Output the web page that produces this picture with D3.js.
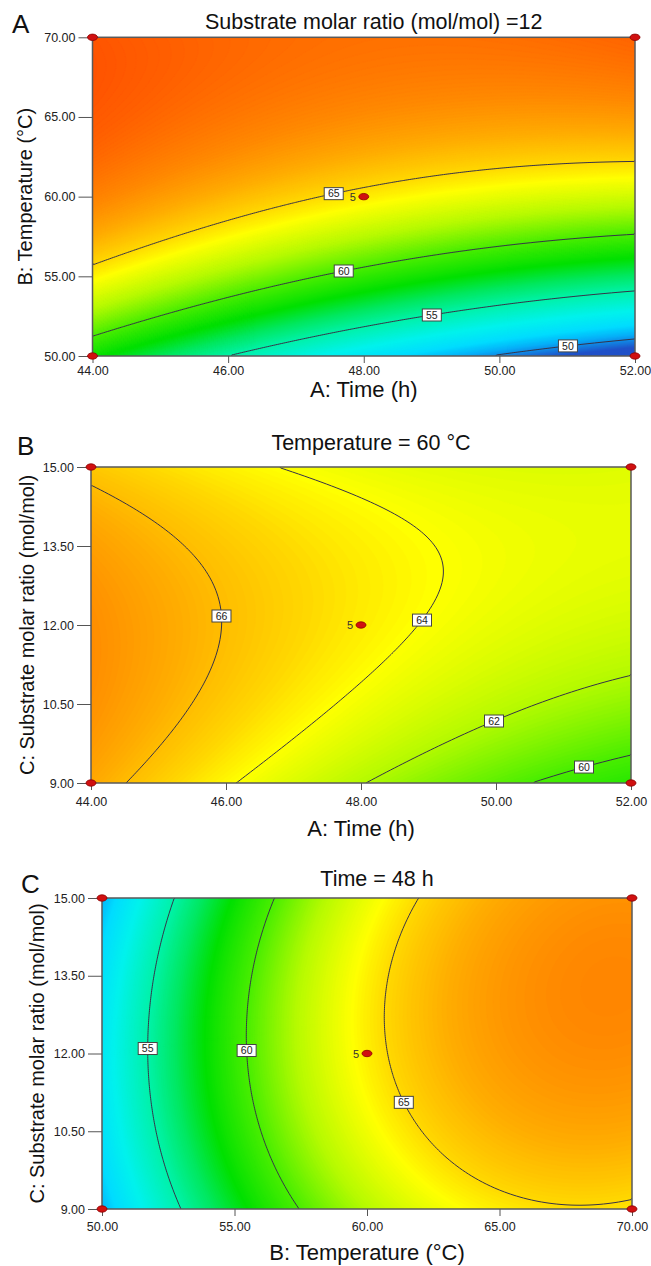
<!DOCTYPE html>
<html lang="en">
<head>
<meta charset="UTF-8">
<script src="https://cdnjs.cloudflare.com/ajax/libs/d3/7.8.5/d3.min.js"></script>
<title>Contour plots</title>
<style>
  body { margin: 0; background: #fff; }
  svg text { font-family: Arial, "Liberation Sans", sans-serif; fill: #111; }
  .tick text { font-size: 12.5px; fill: #222; }
  .tick line { stroke: #555; }
  .ttl { font-size: 21.5px; text-anchor: middle; }
  .axt { font-size: 22px; text-anchor: middle; }
  .ayt { font-size: 20px; text-anchor: middle; }
  .letter { font-size: 26px; }
  .iso { fill: none; stroke: #363248; stroke-width: 1; }
  .lab text { font-size: 10.5px; text-anchor: middle; fill: #222; }
  .lab rect { fill: #fff; stroke: #444; stroke-width: 1; }
</style>
</head>
<body>
<svg width="651" height="1266"></svg>
<script>
// ticks
const timeTicks = [44, 46, 48, 50, 52];
const tempTicks = [50, 55, 60, 65, 70];
const ratioTicks = [9, 10.5, 12, 13.5, 15];

// contour crossings: [x, y, level]
const isoA = [
  [44, 55.95, 65], [45.7, 57.94, 65], [46.92, 59.41, 65], [47.21, 59.87, 65], [48.39, 60.81, 65], [49.37, 61.68, 65], [52, 62.26, 65],
  [44, 51.22, 60], [45.7, 53.32, 60], [47.69, 55.3, 60], [49.37, 56.47, 60], [52, 57.56, 60],
  [46.13, 50, 55], [47.54, 51.64, 55], [49.0, 52.7, 55], [50.6, 53.53, 55], [52, 54.05, 55],
  [49.98, 50, 50], [51.0, 50.7, 50], [52, 51.05, 50]
];
const isoB = [
  [44, 14.62, 66], [44.51, 14.31, 66], [45.12, 13.8, 66], [45.55, 13.36, 66], [45.86, 12.6, 66], [45.96, 12.0, 66],
  [45.86, 11.27, 66], [45.43, 10.26, 66], [45.0, 9.69, 66], [44.51, 9, 66],
  [46.78, 15, 64], [47.59, 14.62, 64], [48.21, 14.31, 64], [48.82, 13.8, 64], [49.13, 13.36, 64], [49.24, 12.98, 64],
  [49.13, 12.47, 64], [48.82, 11.9, 64], [48.21, 11.21, 64], [47.28, 10.26, 64], [46.48, 9.44, 64], [46.18, 9, 64],
  [48.14, 9, 62], [48.82, 9.44, 62], [49.96, 10.23, 62], [50.67, 10.54, 62], [52, 11.02, 62],
  [50.64, 9, 60], [51.29, 9.38, 60], [52, 9.5, 60]
];
const isoC = [
  [52.72, 15, 55], [52.12, 13.76, 55], [51.68, 12.22, 55], [51.81, 10.98, 55], [52.36, 10.02, 55], [52.94, 9, 55],
  [56.49, 15, 60], [55.73, 13.76, 60], [55.42, 12.22, 60], [55.73, 10.98, 60], [56.52, 10.02, 60], [57.35, 9, 60],
  [61.91, 15, 65], [61.08, 13.76, 65], [60.6, 12.73, 65], [60.62, 12.25, 65], [61.36, 11.07, 65], [62.65, 10.15, 65],
  [65.0, 9.37, 65], [67.83, 9.07, 65], [70, 9.19, 65]
];

// contour levels drawn and where their tags sit: [x, y, level]
const levelsA = [50, 55, 60, 65];
const levelsB = [60, 62, 64, 66];
const levelsC = [55, 60, 65];
const tagsA = [[47.55, 60.4, 65], [47.69, 55.4, 60], [49.0, 52.75, 55], [51.0, 50.8, 50]];
const tagsB = [[45.94, 12.19, 66], [48.88, 12.11, 64], [49.96, 10.23, 62], [51.29, 9.38, 60]];
const tagsC = [[51.65, 12.11, 55], [55.39, 12.05, 60], [61.36, 11.07, 65]];

// design points (corners) and the replicated centre point
const cornersA = [[44, 50], [44, 70], [52, 50], [52, 70]];
const cornersB = [[44, 9], [44, 15], [52, 9], [52, 15]];
const cornersC = [[50, 9], [50, 15], [70, 9], [70, 15]];
const centerA = [48, 60], centerB = [48, 12], centerC = [60, 12];
const centerReps = 5;

// response -> colour (rainbow like the original)
const colorStops = [49, 50.5, 51.5, 53, 55, 56.5, 58, 60, 62, 64, 65, 66.5, 68, 70, 72];
const colorHex = ["#2050c8", "#06b0f8", "#00dcff", "#00f2ec", "#00f2a8", "#00e860", "#00e000", "#4aee00",
                  "#b4fa00", "#ffff00", "#ffd800", "#ffac00", "#ff8800", "#ff6000", "#ff4000"];
const color = d3.scaleLinear().domain(colorStops).range(colorHex).clamp(true);

// least squares quadratic surface through the read contour points
function fitSurface(points, xd, yd) {
  const cx = (xd[0] + xd[1]) / 2, hx = (xd[1] - xd[0]) / 2;
  const cy = (yd[0] + yd[1]) / 2, hy = (yd[1] - yd[0]) / 2;
  const feats = (x, y) => { const a = (x - cx) / hx, c = (y - cy) / hy; return [1, a, c, a * c, a * a, c * c]; };
  const M = d3.range(6).map(() => d3.range(6).map(() => 0)), v = d3.range(6).map(() => 0);
  points.forEach(([x, y, z]) => {
    const f = feats(x, y);
    for (let i = 0; i < 6; i++) { v[i] += f[i] * z; for (let j = 0; j < 6; j++) M[i][j] += f[i] * f[j]; }
  });
  for (let i = 0; i < 6; i++) M[i][i] += 1e-6;
  // gaussian elimination
  for (let i = 0; i < 6; i++) {
    let p = i;
    for (let r = i + 1; r < 6; r++) if (Math.abs(M[r][i]) > Math.abs(M[p][i])) p = r;
    [M[i], M[p]] = [M[p], M[i]]; [v[i], v[p]] = [v[p], v[i]];
    for (let r = i + 1; r < 6; r++) {
      const k = M[r][i] / M[i][i];
      for (let c = i; c < 6; c++) M[r][c] -= k * M[i][c];
      v[r] -= k * v[i];
    }
  }
  const b = new Array(6).fill(0);
  for (let i = 5; i >= 0; i--) {
    let s = v[i];
    for (let c = i + 1; c < 6; c++) s -= M[i][c] * b[c];
    b[i] = s / M[i][i];
  }
  return (x, y) => d3.sum(feats(x, y), (f, i) => f * b[i]);
}

const panels = [
  { letter: "A", title: "Substrate molar ratio (mol/mol) =12", xLabel: "A: Time (h)", yLabel: "B: Temperature (°C)",
    xTicks: timeTicks, yTicks: tempTicks, iso: isoA, levels: levelsA, tags: tagsA, corners: cornersA, center: centerA,
    left: 92.5, right: 635, top: 37.3, bottom: 356, xPad: 3, titleY: 29, xLabelY: 397, yLabelX: 32, letterX: 12, letterY: 33 },
  { letter: "B", title: "Temperature = 60 °C", xLabel: "A: Time (h)", yLabel: "C: Substrate molar ratio (mol/mol)",
    xTicks: timeTicks, yTicks: ratioTicks, iso: isoB, levels: levelsB, tags: tagsB, corners: cornersB, center: centerB,
    left: 91, right: 631, top: 467, bottom: 783, xPad: 7, titleY: 450, xLabelY: 836, yLabelX: 34, letterX: 17, letterY: 455 },
  { letter: "C", title: "Time = 48 h", xLabel: "B: Temperature (°C)", yLabel: "C: Substrate molar ratio (mol/mol)",
    xTicks: tempTicks, yTicks: ratioTicks, iso: isoC, levels: levelsC, tags: tagsC, corners: cornersC, center: centerC,
    left: 102, right: 632, top: 898, bottom: 1209, xPad: 6, titleY: 886, xLabelY: 1260, yLabelX: 44, letterX: 21, letterY: 893 }
];

const svg = d3.select("svg");

panels.forEach((p, pi) => {
  const xd = d3.extent(p.xTicks), yd = d3.extent(p.yTicks);
  const x = d3.scaleLinear().domain(xd).range([p.left, p.right]);
  const y = d3.scaleLinear().domain(yd).range([p.bottom, p.top]);
  const f = fitSurface(p.iso, xd, yd);

  const nx = Math.round((p.right - p.left) / 2), ny = Math.round((p.bottom - p.top) / 2);
  const gx = g => xd[0] + g / nx * (xd[1] - xd[0]);
  const gy = g => yd[1] - g / ny * (yd[1] - yd[0]);
  const values = new Float64Array(nx * ny);
  for (let j = 0; j < ny; j++) for (let i = 0; i < nx; i++) values[j * nx + i] = f(gx(i + 0.5), gy(j + 0.5));
  const [vmin, vmax] = d3.extent(values);

  const path = d3.geoPath(d3.geoTransform({
    point: function (a, b) { this.stream.point(x(gx(a)), y(gy(b))); }
  }));

  const g = svg.append("g");
  g.append("clipPath").attr("id", "clip" + pi)
    .append("rect").attr("x", p.left).attr("y", p.top)
    .attr("width", p.right - p.left).attr("height", p.bottom - p.top);
  const plot = g.append("g").attr("clip-path", `url(#clip${pi})`);

  plot.append("rect").attr("x", p.left).attr("y", p.top)
    .attr("width", p.right - p.left).attr("height", p.bottom - p.top)
    .attr("fill", color(vmin));
  const bands = d3.contours().size([nx, ny])
    .thresholds(d3.range(Math.floor(vmin * 10) / 10, vmax, 0.1))(values);
  plot.selectAll("path.band").data(bands).join("path")
    .attr("class", "band").attr("d", path)
    .attr("fill", d => color(d.value)).attr("stroke", d => color(d.value)).attr("stroke-width", 0.6);

  // isolines, without the runs along the frame
  const onEdge = q => q[0] <= 0 || q[0] >= nx || q[1] <= 0 || q[1] >= ny;
  const lines = p.levels.map(level => {
    const c = d3.contours().size([nx, ny]).thresholds([level])(values)[0];
    const parts = [];
    c.coordinates.forEach(poly => poly.forEach(ring => {
      let cur = [];
      for (let k = 0; k < ring.length - 1; k++) {
        const a = ring[k], b = ring[k + 1];
        if (onEdge(a) && onEdge(b)) { if (cur.length > 1) parts.push(cur); cur = []; continue; }
        if (!cur.length) cur.push(a);
        cur.push(b);
      }
      if (cur.length > 1) parts.push(cur);
    }));
    return { level, parts: parts.map(pt => pt.map(q => [x(gx(q[0])), y(gy(q[1]))])) };
  });
  plot.selectAll("path.iso").data(lines.flatMap(l => l.parts)).join("path")
    .attr("class", "iso").attr("d", d3.line());

  // frame
  g.append("rect").attr("x", p.left).attr("y", p.top)
    .attr("width", p.right - p.left).attr("height", p.bottom - p.top)
    .attr("fill", "none").attr("stroke", "#5a5a5a").attr("stroke-width", 1.5);

  // axes
  const ax = g.append("g").attr("transform", `translate(0,${p.bottom})`)
    .call(d3.axisBottom(x).tickValues(p.xTicks).tickFormat(d3.format(".2f")).tickSize(7).tickPadding(p.xPad));
  const ay = g.append("g").attr("transform", `translate(${p.left},0)`)
    .call(d3.axisLeft(y).tickValues(p.yTicks).tickFormat(d3.format(".2f")).tickSize(14).tickPadding(3));
  ax.select(".domain").remove();
  ay.select(".domain").remove();

  // contour tags snapped onto their line
  p.tags.forEach(([tx, ty, level]) => {
    const l = lines.find(d => d.level === level);
    const px = x(tx), py = y(ty);
    let best = [px, py], bd = Infinity;
    l.parts.forEach(pt => pt.forEach(q => {
      const d = (q[0] - px) ** 2 + (q[1] - py) ** 2;
      if (d < bd) { bd = d; best = q; }
    }));
    const t = g.append("g").attr("class", "lab").attr("transform", `translate(${best[0]},${best[1]})`);
    t.append("rect").attr("x", -9.5).attr("y", -6).attr("width", 19).attr("height", 12);
    t.append("text").attr("y", 3.8).text(level);
  });

  // design points
  const dots = p.corners.concat([p.center]);
  g.selectAll("ellipse").data(dots).join("ellipse")
    .attr("cx", d => x(d[0])).attr("cy", d => y(d[1]))
    .attr("rx", 5).attr("ry", 3.2)
    .attr("fill", "#d01010").attr("stroke", "#8a0000").attr("stroke-width", 0.8);
  g.append("text").attr("x", x(p.center[0]) - 8).attr("y", y(p.center[1]) + 4)
    .attr("text-anchor", "end").style("font-size", "11px").style("fill", "#333").text(centerReps);

  // texts
  g.append("text").attr("class", "ttl").attr("x", (p.left + p.right) / 2 + 10).attr("y", p.titleY).text(p.title);
  g.append("text").attr("class", "axt").attr("x", (p.left + p.right) / 2).attr("y", p.xLabelY).text(p.xLabel);
  g.append("text").attr("class", "ayt")
    .attr("transform", `translate(${p.yLabelX},${(p.top + p.bottom) / 2}) rotate(-90)`).text(p.yLabel);
  g.append("text").attr("class", "letter").attr("x", p.letterX).attr("y", p.letterY).text(p.letter);
});
</script>
</body>
</html>
